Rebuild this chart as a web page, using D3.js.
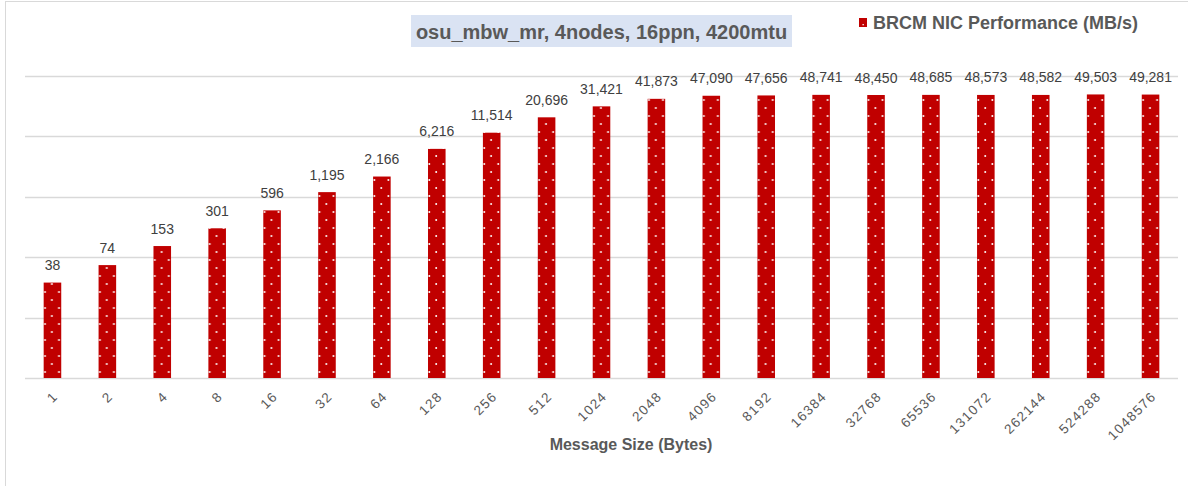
<!DOCTYPE html>
<html>
<head>
<meta charset="utf-8">
<script src="https://cdn.jsdelivr.net/npm/d3@7"></script>
<style>
  html, body { margin: 0; padding: 0; background: #fff; }
  svg { display: block; font-family: "Liberation Sans", Arial, sans-serif; }
</style>
</head>
<body>
<svg id="chart" width="1188" height="486"></svg>
<script>
const categories = ["1","2","4","8","16","32","64","128","256","512","1024","2048","4096","8192","16384","32768","65536","131072","262144","524288","1048576"];
const values = [38,74,153,301,596,1195,2166,6216,11514,20696,31421,41873,47090,47656,48741,48450,48685,48573,48582,49503,49281];
const gridTicks = [1,10,100,1000,10000,100000];
const chartTitle = "osu_mbw_mr, 4nodes, 16ppn, 4200mtu";
const seriesName = "BRCM NIC Performance (MB/s)";
const xTitle = "Message Size (Bytes)";

const svg = d3.select("#chart");
const barColor = "#C00000";

// chart border
svg.append("rect").attr("x", 5.5).attr("y", 1.5).attr("width", 1200).attr("height", 500)
  .attr("fill", "none").attr("stroke", "#D9D9D9").attr("stroke-width", 1);

const x = d3.scaleBand().domain(categories).range([25, 1178]).paddingInner(0.68).paddingOuter(0.34);
const y = d3.scaleLog().domain([1, 100000]).range([378, 76]);

// dotted pattern
const defs = svg.append("defs");
const pat = defs.append("pattern").attr("id", "dots").attr("patternUnits", "userSpaceOnUse")
  .attr("width", 14).attr("height", 16);
pat.append("rect").attr("width", 14).attr("height", 16).attr("fill", barColor);
pat.append("circle").attr("cx", 1.3).attr("cy", 4).attr("r", 1).attr("fill", "#fff");
pat.append("circle").attr("cx", 8.2).attr("cy", 12).attr("r", 1).attr("fill", "#fff");

// gridlines
svg.append("g").selectAll("line").data(gridTicks).join("line")
  .attr("x1", 25).attr("x2", 1178)
  .attr("y1", d => Math.round(y(d)) + 0.5).attr("y2", d => Math.round(y(d)) + 0.5)
  .attr("stroke", "#D9D9D9").attr("stroke-width", 1.3);

// bars
const bars = svg.append("g").selectAll("g").data(categories).join("g")
  .attr("transform", d => `translate(${x(d)},0)`);
bars.append("rect")
  .attr("x", 0).attr("width", x.bandwidth())
  .attr("y", (d, i) => y(values[i]))
  .attr("height", (d, i) => y(1) - y(values[i]))
  .attr("fill", "url(#dots)");

// data labels
svg.append("g").selectAll("text").data(categories).join("text")
  .attr("x", d => x(d) + x.bandwidth() / 2)
  .attr("y", (d, i) => y(values[i]) - 12.5)
  .attr("text-anchor", "middle")
  .attr("font-size", 14).attr("fill", "#404040")
  .text((d, i) => d3.format(",")(values[i]));

// x axis (no ticks, rotated labels)
const xAxis = d3.axisBottom(x).tickSize(0).tickPadding(0);
const gx = svg.append("g").attr("transform", "translate(0,378)").attr("color", "#595959").call(xAxis);
gx.select(".domain").remove();
gx.selectAll("text")
  .attr("font-size", 13.5).attr("font-family", "Liberation Sans, Arial, sans-serif")
  .attr("fill", "#595959")
  .attr("letter-spacing", "1.3px")
  .attr("text-anchor", "end")
  .attr("dy", "0.35em")
  .attr("transform", "translate(3,16) rotate(-45)");

// x title
svg.append("text").attr("x", 631).attr("y", 450).attr("text-anchor", "middle")
  .attr("font-size", 16).attr("font-weight", "bold").attr("fill", "#595959").text(xTitle);

// chart title with box
svg.append("rect").attr("x", 411).attr("y", 15).attr("width", 381).attr("height", 32).attr("fill", "#DAE3F3");
svg.append("text").attr("x", 601.5).attr("y", 38.5).attr("text-anchor", "middle")
  .attr("font-size", 20).attr("font-weight", "bold").attr("fill", "#595959").text(chartTitle);

// legend
const lg = svg.append("g").attr("transform", "translate(859,18)");
lg.append("rect").attr("width", 8).attr("height", 9).attr("fill", barColor);
lg.append("rect").attr("x", 3.5).attr("y", 6).attr("width", 1.3).attr("height", 1.3).attr("fill", "#fff");
lg.append("text").attr("x", 14).attr("y", 11).attr("font-size", 18).attr("font-weight", "bold")
  .attr("fill", "#595959").text(seriesName);
</script>
</body>
</html>
